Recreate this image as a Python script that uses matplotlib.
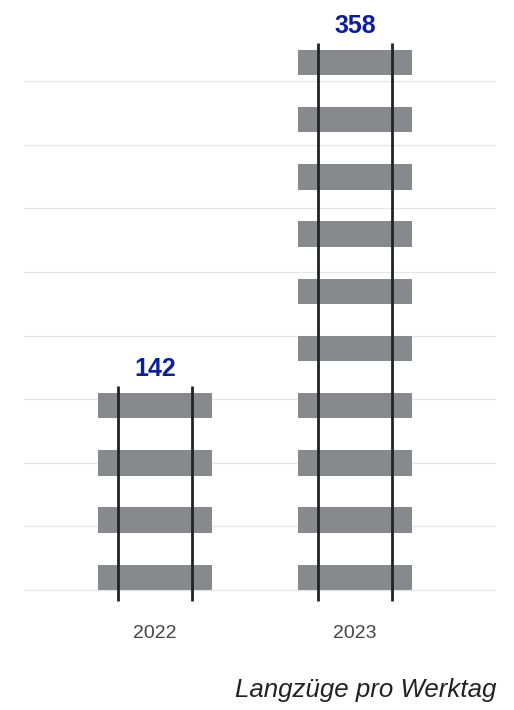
import numpy as np
import matplotlib.pyplot as plt
from matplotlib.patches import Rectangle

years = ["2022", "2023"]
values = [142, 358]
sleepers = [4, 10]
grid_ticks = [0, 40, 80, 120, 160, 200, 240, 280, 320]
caption = "Langzüge pro Werktag"

sleeper_color = "#88898d"
rail_color = "#222222"
label_color = "#0a1e9f"

W, H = 514, 710
fig = plt.figure(figsize=(W / 100, H / 100), dpi=100)
# axes spans the full height, baseline sits at pixel 590 from the top
ax = fig.add_axes([24 / W, 0, 472 / W, 1])
ppu = 63.6 / 40  # pixels per unit
ax.set_ylim(-(H - 590) / ppu, 590 / ppu)
ax.set_xlim(-131 / 200, (472 - 131) / 200)
ax.axis("off")

for g in grid_ticks:
    ax.axhline(g, color="#e6e6e6", lw=1.0, zorder=0)

sl_w = 114 / 200
sl_h = 25.5 / ppu
sl_step = 57.2 / ppu
rail_off = 37 / 200

for i, (yr, v, n) in enumerate(zip(years, values, sleepers)):
    for k in range(n):
        ax.add_patch(Rectangle((i - sl_w / 2, k * sl_step), sl_w, sl_h,
                               facecolor=sleeper_color, edgecolor="none", zorder=2))
    top = (n - 1) * sl_step + sl_h + 7 / ppu
    bottom = -11 / ppu
    for dx in (-rail_off, rail_off):
        ax.plot([i + dx, i + dx], [bottom, top], color=rail_color, lw=2.0,
                solid_capstyle="butt", zorder=3)
    ax.text(i, top + 10 / ppu, str(v), ha="center", va="baseline", fontsize=18,
            fontweight="bold", color=label_color, family="Liberation Sans")
    ax.text(i, -44 / ppu, yr, ha="center", va="center", fontsize=14,
            color="#444444", family="Liberation Sans")

fig.text(496 / W, 1 - 690 / H, caption, ha="right", va="center", fontsize=18.6,
         style="italic", color="#222222", family="Liberation Sans")

fig.savefig("out.png", dpi=100)
